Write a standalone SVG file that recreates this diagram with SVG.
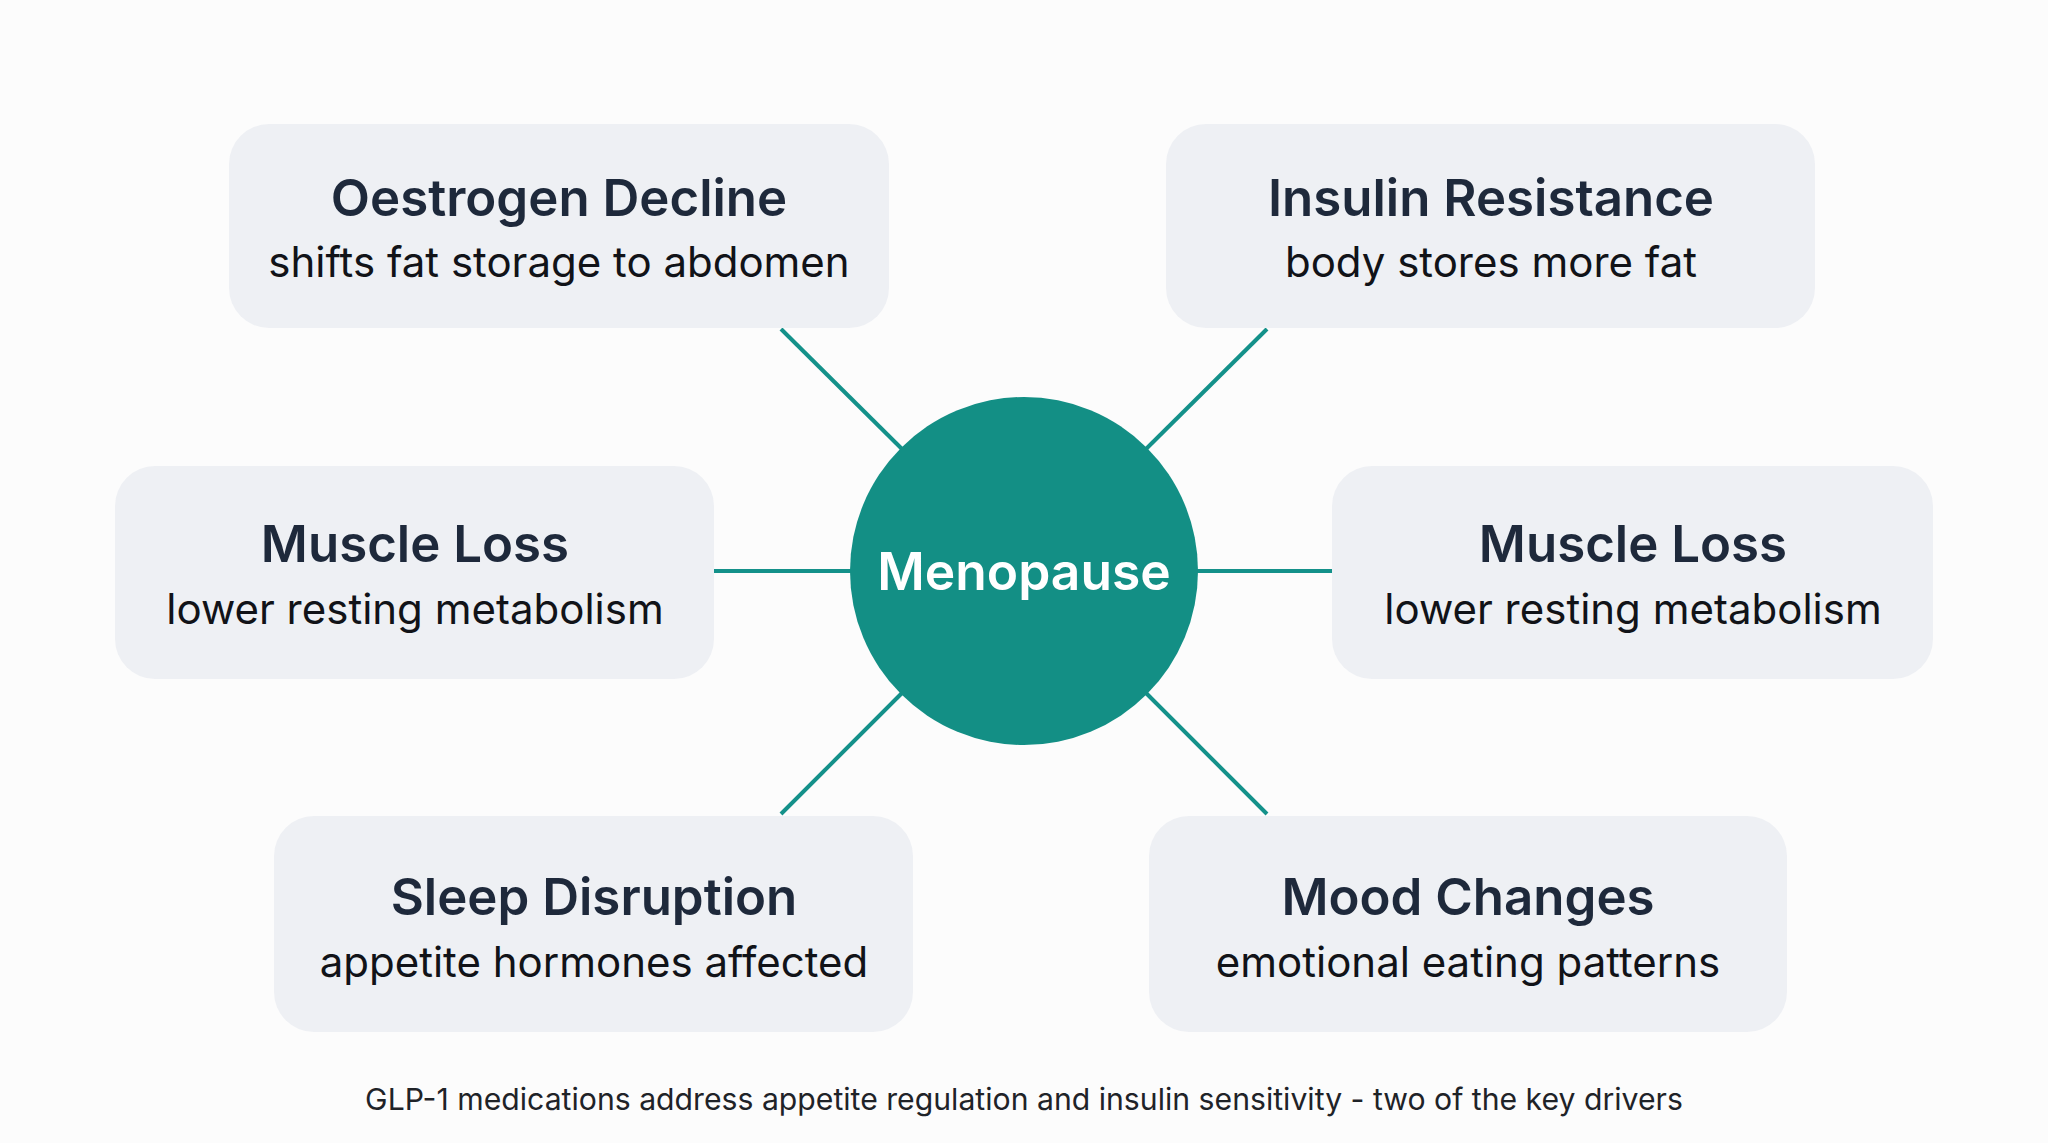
<svg xmlns="http://www.w3.org/2000/svg" width="2048" height="1143" viewBox="0 0 2048 1143">
<style>
.box{fill:#eef0f4}
.t{font-family:Inter,"Noto Sans",sans-serif;font-weight:600;font-size:51px;fill:#1e293b;text-anchor:middle}
.s{font-family:Inter,"Noto Sans",sans-serif;font-weight:400;font-size:42px;fill:#111318;text-anchor:middle}
.c{stroke:#14918a;stroke-width:4;fill:none}
</style>
<rect width="2048" height="1143" fill="#fcfcfc"/>
<g id="connectors">
<line class="c" x1="714" y1="571" x2="852" y2="571"/>
<line class="c" x1="1196" y1="571" x2="1332" y2="571"/>
<line class="c" x1="781" y1="329" x2="903" y2="450"/>
<line class="c" x1="1267" y1="329" x2="1145" y2="450"/>
<line class="c" x1="781" y1="814" x2="903" y2="692"/>
<line class="c" x1="1267" y1="814" x2="1145" y2="692"/>
</g>
<g id="oestrogen">
<rect class="box" x="229" y="124" width="660" height="204" rx="40"/>
<text class="t" x="559" y="216">Oestrogen Decline</text>
<text class="s" x="559" y="277">shifts fat storage to abdomen</text>
</g>
<g id="insulin">
<rect class="box" x="1166" y="124" width="649" height="204" rx="40"/>
<text class="t" x="1491" y="216">Insulin Resistance</text>
<text class="s" x="1491" y="277">body stores more fat</text>
</g>
<g id="muscle-left">
<rect class="box" x="115" y="466" width="599" height="213" rx="40"/>
<text class="t" x="415" y="562">Muscle Loss</text>
<text class="s" x="415" y="624">lower resting metabolism</text>
</g>
<g id="muscle-right">
<rect class="box" x="1332" y="466" width="601" height="213" rx="40"/>
<text class="t" x="1633" y="562">Muscle Loss</text>
<text class="s" x="1633" y="624">lower resting metabolism</text>
</g>
<g id="sleep">
<rect class="box" x="274" y="816" width="639" height="216" rx="40"/>
<text class="t" x="594" y="915">Sleep Disruption</text>
<text class="s" x="594" y="977">appetite hormones affected</text>
</g>
<g id="mood">
<rect class="box" x="1149" y="816" width="638" height="216" rx="40"/>
<text class="t" x="1468" y="915">Mood Changes</text>
<text class="s" x="1468" y="977">emotional eating patterns</text>
</g>
<g id="menopause">
<circle cx="1024" cy="571" r="174" fill="#138f85"/>
<text x="1024" y="590" style="font-family:Inter,'Noto Sans',sans-serif;font-weight:600;font-size:51.5px;fill:#ffffff;text-anchor:middle">Menopause</text>
</g>
<text x="1024" y="1110" style="font-family:Inter,'Noto Sans',sans-serif;font-weight:400;font-size:30.2px;fill:#1f2328;text-anchor:middle">GLP-1 medications address appetite regulation and insulin sensitivity - two of the key drivers</text>
</svg>
